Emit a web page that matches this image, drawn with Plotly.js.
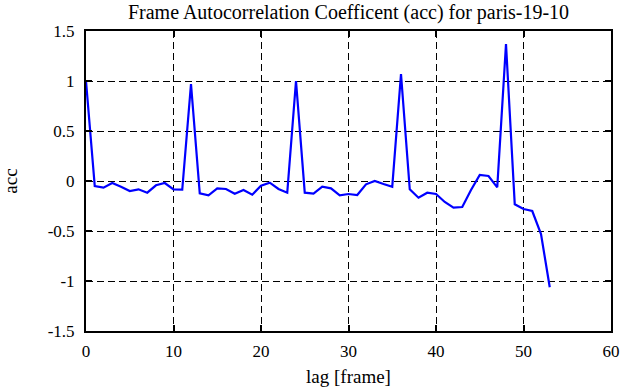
<!DOCTYPE html>
<html>
<head>
<meta charset="utf-8">
<script src="https://cdn.plot.ly/plotly-3.0.1.min.js"></script>
<style>html,body{margin:0;padding:0;background:#fff;}#chart{width:630px;height:387px;}</style>
</head>
<body>
<div id="chart"></div>
<script>
const lags = [0,1,2,3,4,5,6,7,8,9,10,11,12,13,14,15,16,17,18,19,20,21,22,23,24,25,26,27,28,29,30,31,32,33,34,35,36,37,38,39,40,41,42,43,44,45,46,47,48,49,50,51,52,53];
const acc = [1.0,-0.05,-0.067,-0.02,-0.057,-0.10,-0.083,-0.117,-0.043,-0.02,-0.083,-0.087,0.97,-0.123,-0.143,-0.073,-0.08,-0.127,-0.09,-0.137,-0.047,-0.017,-0.08,-0.117,1.0,-0.117,-0.127,-0.057,-0.073,-0.143,-0.13,-0.14,-0.033,0.0,-0.03,-0.057,1.07,-0.083,-0.167,-0.117,-0.13,-0.21,-0.267,-0.26,-0.09,0.06,0.05,-0.063,1.37,-0.233,-0.28,-0.30,-0.53,-1.063];
const xTicks = [0,10,20,30,40,50,60];
const yTicks = [-1.5,-1,-0.5,0,0.5,1,1.5];
const yTickText = ['-1.5','-1','-0.5','0','0.5','1','1.5'];

const font = 'Liberation Serif, Times New Roman, serif';
const axisCommon = {
  showline: true, linecolor: '#000', linewidth: 2, mirror: 'ticks',
  ticks: 'inside', ticklen: 6, tickwidth: 2, tickcolor: '#000',
  showgrid: true, gridcolor: '#000', griddash: '7px,4px', gridwidth: 1,
  zeroline: false, tickfont: {family: font, size: 17, color: '#000'}
};
Plotly.newPlot('chart', [{
  x: lags, y: acc, type: 'scatter', mode: 'lines',
  line: {color: '#0000ff', width: 2.2}
}], {
  width: 630, height: 387,
  margin: {l: 86, r: 19, t: 31, b: 56},
  paper_bgcolor: '#fff', plot_bgcolor: '#fff',
  showlegend: false,
  title: {text: 'Frame Autocorrelation Coefficent (acc) for paris-19-10', font: {family: font, size: 20, color: '#000'}, xref: 'paper', x: 0.5, xanchor: 'center', yref: 'container', y: 0.968, yanchor: 'middle'},
  xaxis: Object.assign({}, axisCommon, {range: [0, 60], tickvals: xTicks, ticktext: xTicks.map(String), ticklabelstandoff: 4,
    title: {text: 'lag [frame]', font: {family: font, size: 19, color: '#000'}, standoff: 10}}),
  yaxis: Object.assign({}, axisCommon, {range: [-1.5, 1.5], tickvals: yTicks, ticktext: yTickText, ticklabelstandoff: 6,
    title: {text: 'acc', font: {family: font, size: 19, color: '#000'}, standoff: 26}})
}, {staticPlot: true});
</script>
</body>
</html>
